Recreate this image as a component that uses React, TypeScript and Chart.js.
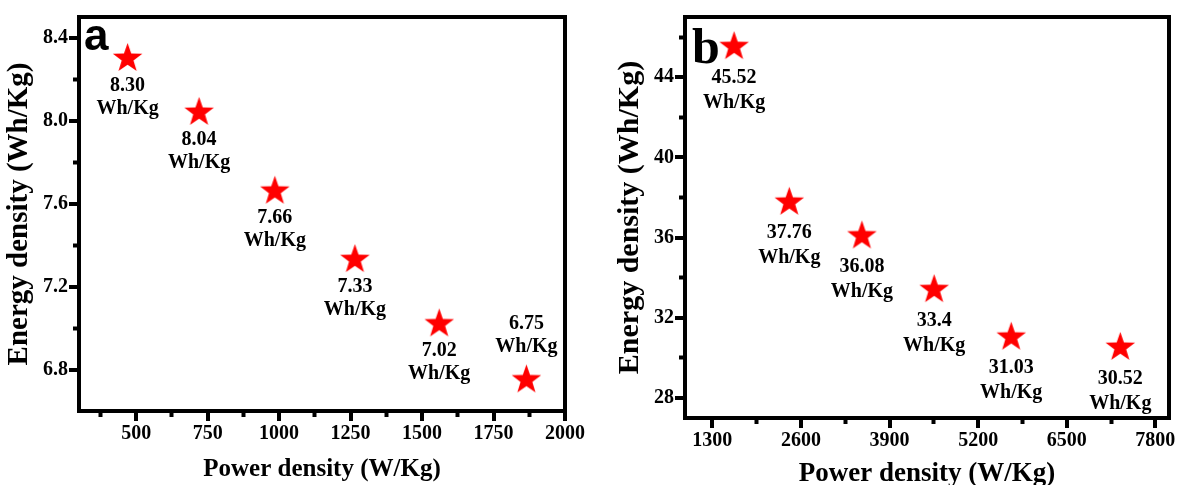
import { useEffect, useRef } from 'react';
import { Chart, registerables } from 'chart.js';

Chart.register(...registerables);

// Panel a: power density (W/Kg) vs energy density (Wh/Kg)
const powerA = [470, 720, 985, 1265, 1560, 1865];
const energyA = [8.3, 8.04, 7.66, 7.33, 7.02, 6.75];
const labelsA = energyA.map((v) => v.toFixed(2));
const labelAboveA = [false, false, false, false, false, true];
const xTicksA = [500, 750, 1000, 1250, 1500, 1750, 2000];
const xMinorA = [375, 625, 875, 1125, 1375, 1625, 1875];
const yTicksA = [6.8, 7.2, 7.6, 8.0, 8.4];
const yMinorA = [7.0, 7.4, 7.8, 8.2];

// Panel b
const powerB = [1620, 2430, 3495, 4555, 5685, 7285];
const energyB = [45.52, 37.76, 36.08, 33.4, 31.03, 30.52];
const labelsB = energyB.map((v) => String(v));
const labelAboveB = [false, false, false, false, false, false];
const xTicksB = [1300, 2600, 3900, 5200, 6500, 7800];
const xMinorB = [1950, 3250, 4550, 5850, 7150];
const yTicksB = [28, 32, 36, 40, 44];
const yMinorB = [30, 34, 38, 42, 46];

const UNIT = 'Wh/Kg';
const SERIF = "'Liberation Serif', 'Times New Roman', serif";
const SANS = "'Liberation Sans', Arial, sans-serif";
const RED = '#ff0000';
const LINE_W = 4;

function starImage(r: number, color: string) {
  const size = Math.ceil(r * 2) + 4;
  const c = document.createElement('canvas');
  c.width = size;
  c.height = size;
  const g = c.getContext('2d')!;
  g.translate(size / 2, size / 2);
  g.beginPath();
  for (let i = 0; i < 10; i++) {
    const rr = i % 2 === 0 ? r : r * 0.4;
    const a = -Math.PI / 2 + (i * Math.PI) / 5;
    g.lineTo(rr * Math.cos(a), rr * Math.sin(a));
  }
  g.closePath();
  g.fillStyle = color;
  g.fill();
  return c;
}

const valueLabels = {
  id: 'valueLabels',
  afterDatasetsDraw(chart: any, _args: any, opts: any) {
    const meta = chart.getDatasetMeta(0);
    const ctx = chart.ctx;
    ctx.save();
    ctx.font = `bold ${opts.size}px ${SERIF}`;
    ctx.textAlign = 'center';
    ctx.textBaseline = 'middle';
    ctx.fillStyle = '#000';
    meta.data.forEach((el: any, i: number) => {
      const offs = opts.above[i] ? opts.aboveOffsets : opts.belowOffsets;
      ctx.fillText(opts.texts[i], el.x, el.y + offs[0]);
      ctx.fillText(UNIT, el.x, el.y + offs[1]);
    });
    ctx.restore();
  },
};

const panelLetter = {
  id: 'panelLetter',
  afterDraw(chart: any, _args: any, opts: any) {
    const ctx = chart.ctx;
    ctx.save();
    ctx.font = opts.font;
    ctx.fillStyle = '#000';
    ctx.textAlign = 'left';
    ctx.textBaseline = 'alphabetic';
    ctx.fillText(opts.text, opts.x, opts.y);
    ctx.restore();
  },
};

type Spec = {
  xs: number[];
  ys: number[];
  texts: string[];
  above: boolean[];
  xTicks: number[];
  xMinor: number[];
  yTicks: number[];
  yMinor: number[];
  xMin: number;
  xMax: number;
  yMin: number;
  yMax: number;
  yFmt: (v: number) => string;
  yAxisW: number;
  xAxisH: number;
  padTop: number;
  padRight: number;
  yTitleSize: number;
  yTitlePad: number;
  xTitleSize: number;
  xTitleLH: number;
  xTitlePad: number;
  labelSize: number;
  belowOffsets: number[];
  aboveOffsets: number[];
  letter: { text: string; font: string; x: number; y: number };
};

function setTicks(values: number[]) {
  return (axis: any) => {
    axis.ticks = values.map((v) => ({ value: v }));
  };
}

function buildConfig(s: Spec): any {
  const tickFont = { family: SERIF, size: 20, weight: 'bold' as const };
  const frame = { display: true, width: LINE_W, color: '#000' };
  return {
    type: 'scatter',
    data: {
      datasets: [
        {
          data: s.xs.map((x, i) => ({ x, y: s.ys[i] })),
          pointStyle: starImage(15.5, RED),
          pointRadius: 16,
          showLine: false,
          clip: false,
        },
      ],
    },
    plugins: [valueLabels, panelLetter],
    options: {
      responsive: false,
      animation: false,
      devicePixelRatio: 1,
      events: [],
      layout: { padding: { top: s.padTop, right: s.padRight, left: 0, bottom: 0 } },
      plugins: {
        legend: { display: false },
        tooltip: { enabled: false },
        valueLabels: {
          texts: s.texts,
          above: s.above,
          size: s.labelSize,
          belowOffsets: s.belowOffsets,
          aboveOffsets: s.aboveOffsets,
        },
        panelLetter: s.letter,
      },
      scales: {
        x: {
          type: 'linear',
          position: 'bottom',
          weight: 1,
          min: s.xMin,
          max: s.xMax,
          afterBuildTicks: setTicks(s.xTicks),
          afterFit: (a: any) => {
            a.height = s.xAxisH;
          },
          ticks: {
            font: tickFont,
            color: '#000',
            padding: 1,
            autoSkip: false,
            maxRotation: 0,
            callback: (v: number) => String(v),
          },
          grid: { drawOnChartArea: false, tickLength: 10, tickWidth: LINE_W, tickColor: '#000', lineWidth: LINE_W },
          border: frame,
          title: {
            display: true,
            text: 'Power density (W/Kg)',
            color: '#000',
            font: { family: SERIF, size: s.xTitleSize, weight: 'bold', lineHeight: s.xTitleLH },
            padding: { top: s.xTitlePad, bottom: 0 },
          },
        },
        xMinor: {
          type: 'linear',
          position: 'bottom',
          weight: 0,
          min: s.xMin,
          max: s.xMax,
          afterBuildTicks: setTicks(s.xMinor),
          afterFit: (a: any) => {
            a.height = 0;
          },
          ticks: { display: false },
          grid: { drawOnChartArea: false, tickLength: 6, tickWidth: LINE_W, tickColor: '#000' },
          border: { display: false },
        },
        y: {
          type: 'linear',
          position: 'left',
          weight: 1,
          min: s.yMin,
          max: s.yMax,
          afterBuildTicks: setTicks(s.yTicks),
          afterFit: (a: any) => {
            a.width = s.yAxisW;
          },
          ticks: {
            font: tickFont,
            color: '#000',
            padding: 1,
            autoSkip: false,
            callback: (v: number) => s.yFmt(v),
          },
          grid: { drawOnChartArea: false, tickLength: 10, tickWidth: LINE_W, tickColor: '#000', lineWidth: LINE_W },
          border: frame,
          title: {
            display: true,
            text: 'Energy density (Wh/Kg)',
            color: '#000',
            font: { family: SERIF, size: s.yTitleSize, weight: 'bold', lineHeight: 1.2 },
            padding: { top: s.yTitlePad, bottom: 0 },
          },
        },
        yMinor: {
          type: 'linear',
          position: 'left',
          weight: 0,
          min: s.yMin,
          max: s.yMax,
          afterBuildTicks: setTicks(s.yMinor),
          afterFit: (a: any) => {
            a.width = 0;
          },
          ticks: { display: false },
          grid: { drawOnChartArea: false, tickLength: 6, tickWidth: LINE_W, tickColor: '#000' },
          border: { display: false },
        },
        xTop: {
          type: 'linear',
          position: 'top',
          min: s.xMin,
          max: s.xMax,
          afterFit: (a: any) => {
            a.height = 0;
          },
          ticks: { display: false },
          grid: { drawOnChartArea: false, drawTicks: false, lineWidth: LINE_W },
          border: frame,
        },
        yRight: {
          type: 'linear',
          position: 'right',
          min: s.yMin,
          max: s.yMax,
          afterFit: (a: any) => {
            a.width = 0;
          },
          ticks: { display: false },
          grid: { drawOnChartArea: false, drawTicks: false, lineWidth: LINE_W },
          border: frame,
        },
      },
    },
  };
}

const specA: Spec = {
  xs: powerA,
  ys: energyA,
  texts: labelsA,
  above: labelAboveA,
  xTicks: xTicksA,
  xMinor: xMinorA,
  yTicks: yTicksA,
  yMinor: yMinorA,
  xMin: 300,
  xMax: 2000,
  yMin: 6.6,
  yMax: 8.5,
  yFmt: (v) => v.toFixed(1),
  yAxisW: 79,
  xAxisH: 74,
  padTop: 12,
  padRight: 25,
  yTitleSize: 29,
  yTitlePad: 2.6,
  xTitleSize: 25,
  xTitleLH: 1.2,
  xTitlePad: 6.4,
  labelSize: 20,
  belowOffsets: [27, 50],
  aboveOffsets: [-56, -33],
  letter: { text: 'a', font: `bold 44px ${SANS}`, x: 84, y: 50 },
};

const specB: Spec = {
  xs: powerB,
  ys: energyB,
  texts: labelsB,
  above: labelAboveB,
  xTicks: xTicksB,
  xMinor: xMinorB,
  yTicks: yTicksB,
  yMinor: yMinorB,
  xMin: 900,
  xMax: 8000,
  yMin: 27,
  yMax: 47,
  yFmt: (v) => String(v),
  yAxisW: 95,
  xAxisH: 67,
  padTop: 15,
  padRight: 9,
  yTitleSize: 30,
  yTitlePad: 22.6,
  xTitleSize: 27,
  xTitleLH: 0.8,
  xTitlePad: 0,
  labelSize: 20,
  belowOffsets: [31, 56],
  aboveOffsets: [-56, -33],
  letter: { text: 'b', font: `bold 50px ${SERIF}`, x: 102, y: 63 },
};

function Panel({ spec, left, width }: { spec: Spec; left: number; width: number }) {
  const ref = useRef<HTMLCanvasElement>(null);
  useEffect(() => {
    const chart = new Chart(ref.current!, buildConfig(spec));
    return () => chart.destroy();
  }, [spec]);
  return (
    <canvas
      ref={ref}
      width={width}
      height={485}
      style={{ position: 'absolute', left, top: 0, width, height: 485 }}
    />
  );
}

export default function App() {
  return (
    <div
      style={{
        position: 'fixed',
        left: 0,
        top: 0,
        width: 1186,
        height: 485,
        background: '#fff',
        overflow: 'hidden',
      }}
    >
      <Panel spec={specA} left={0} width={590} />
      <Panel spec={specB} left={590} width={596} />
    </div>
  );
}
